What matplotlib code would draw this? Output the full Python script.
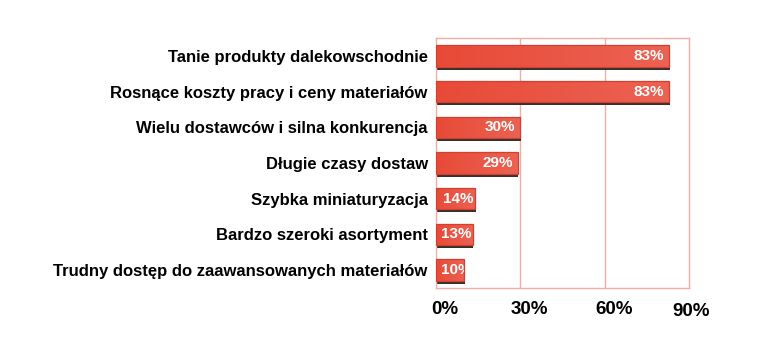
import matplotlib
matplotlib.use("Agg")
import matplotlib.pyplot as plt
import matplotlib.transforms as mtransforms
import numpy as np
from matplotlib.colors import LinearSegmentedColormap

categories = [
    "Tanie produkty dalekowschodnie",
    "Rosnące koszty pracy i ceny materiałów",
    "Wielu dostawców i silna konkurencja",
    "Długie czasy dostaw",
    "Szybka miniaturyzacja",
    "Bardzo szeroki asortyment",
    "Trudny dostęp do zaawansowanych materiałów",
]
values = [83, 83, 30, 29, 14, 13, 10]
xticks = [0, 30, 60, 90]
xtick_labels = ["0%", "30%", "60%", "90%"]

plt.rcParams['font.family'] = ['Liberation Sans', 'DejaVu Sans']

fig = plt.figure(figsize=(7.64, 3.58), dpi=100)
ax = fig.add_axes([436/764, 1-288/358, (689-436)/764, (288-38)/358])

ypos = list(range(len(categories)))
grid_col = "#F4ADA5"
bh = 0.6
ax.set_xlim(0, 90)
ax.set_ylim(len(categories)-0.5, -0.5)

# shadow
shadow_tr = ax.transData + mtransforms.ScaledTranslation(0.5/100, -3/100, fig.dpi_scale_trans)
ax.barh(ypos, values, height=bh, color="#333030", transform=shadow_tr, zorder=2)
bars = ax.barh(ypos, values, height=bh, color="none", edgecolor="#D43F2E", linewidth=0.9, zorder=3.5)

cmap = LinearSegmentedColormap.from_list("barg", ["#E84A37", "#EC6253"])
grad = np.linspace(0, 1, 256).reshape(1, -1)
for bar, y, v in zip(bars, ypos, values):
    im = ax.imshow(grad, cmap=cmap, aspect="auto", extent=(0, v, y + bh/2, y - bh/2),
                   zorder=3, interpolation="bilinear")
    im.set_clip_path(bar)

ax.set_xlim(0, 90)
ax.set_ylim(len(categories)-0.5, -0.5)

px = 253 / 90.0
for bar, y, v in zip(bars, ypos, values):
    txt_w = 30
    off = -5 if v >= 20 else -2
    if v * px + off - txt_w < 5:
        t = ax.annotate(f"{v}%", (0, y), xytext=(5, 0), textcoords="offset pixels",
                        ha="left", va="center", color="white", fontsize=11,
                        fontweight="bold", zorder=4)
    else:
        t = ax.annotate(f"{v}%", (v, y), xytext=(off, 0), textcoords="offset pixels",
                        ha="right", va="center", color="white", fontsize=11,
                        fontweight="bold", zorder=4)
    t.set_clip_path(bar)

ax.set_yticks(ypos)
ax.set_yticklabels(categories, fontsize=12, fontweight="bold")
ax.set_xticks(xticks)
ax.set_xticklabels(xtick_labels, fontsize=13.5, fontweight="bold")
ax.tick_params(axis="both", length=0)
ax.tick_params(axis="y", pad=6)
ax.tick_params(axis="x", pad=9)
shifts = [(9, 0), (9, 0), (9, 0), (2, -3)]
for lbl, (dx, dy) in zip(ax.get_xticklabels(), shifts):
    lbl.set_transform(lbl.get_transform() + mtransforms.ScaledTranslation(dx/100, dy/100, fig.dpi_scale_trans))
for x in xticks[1:-1]:
    ax.axvline(x, color=grid_col, linewidth=1, zorder=1)
for s in ax.spines.values():
    s.set_color(grid_col)
    s.set_linewidth(1)

fig.savefig("out.png", dpi=100, facecolor="white")
